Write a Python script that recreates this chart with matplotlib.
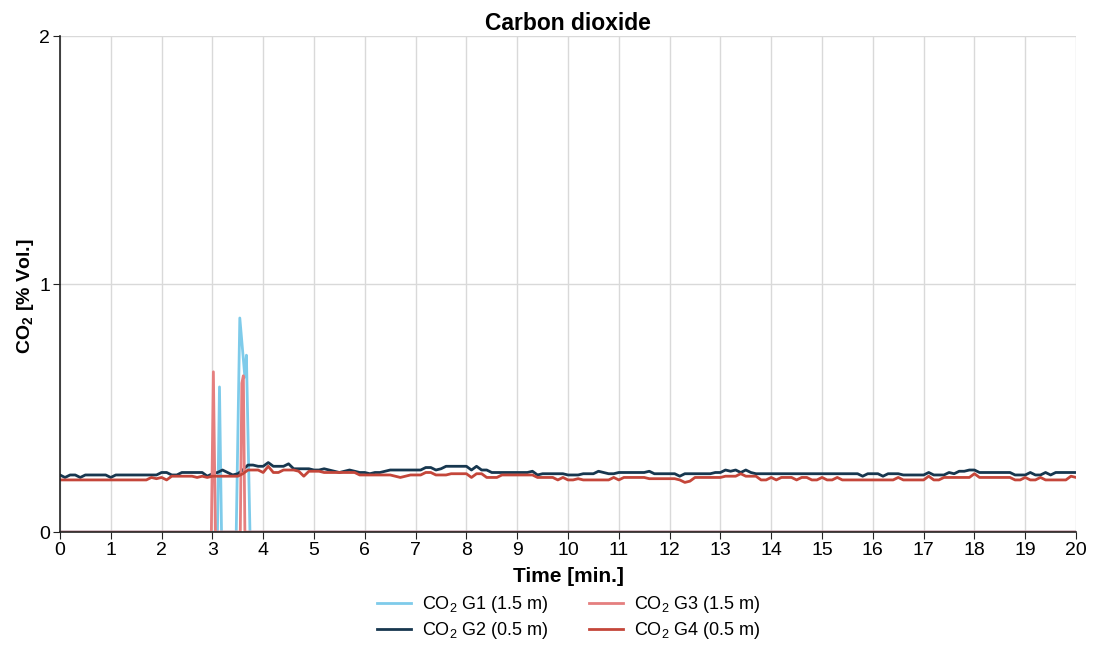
import numpy as np
import matplotlib
matplotlib.use("Agg")
import matplotlib.pyplot as plt

plt.rcParams['font.family'] = ['Liberation Sans', 'DejaVu Sans']
plt.rcParams['mathtext.fontset'] = 'custom'
plt.rcParams['mathtext.rm'] = 'Liberation Sans'
plt.rcParams['mathtext.bf'] = 'Liberation Sans:bold'

# sample grid for G2 / G4 (every 0.1 min)
time = np.round(np.arange(0, 20.01, 0.1), 1)

# CO2 G2 (0.5 m), % Vol. x100
g2 = [
    23, 22, 23, 23, 22, 23, 23, 23, 23, 23,
    22, 23, 23, 23, 23, 23, 23, 23, 23, 23,
    24, 24, 23, 23, 24, 24, 24, 24, 24, 22.5,
    23.5, 24, 25, 24, 23, 23.5, 25, 27, 27, 26.5,
    26.5, 28, 26.5, 26.5, 26.5, 27.5, 25.5, 25.5, 25.5, 25.5,
    25, 25, 25.5, 25, 24.5, 24, 24.5, 25, 24.5, 24,
    24, 23.5, 24, 24, 24.5, 25, 25, 25, 25, 25,
    25, 25, 26, 26, 25, 25.5, 26.5, 26.5, 26.5, 26.5,
    26.5, 25, 26.5, 25, 25, 24, 24, 24, 24, 24,
    24, 24, 24, 24.5, 23, 23.5, 23.5, 23.5, 23.5, 23.5,
    23, 23, 23, 23.5, 23.5, 23.5, 24.5, 24, 23.5, 23.5,
    24, 24, 24, 24, 24, 24, 24.5, 23.5, 23.5, 23.5,
    23.5, 23.5, 22.5, 23.5, 23.5, 23.5, 23.5, 23.5, 23.5, 24,
    24, 25, 24.5, 25, 24, 25, 24, 23.5, 23.5, 23.5,
    23.5, 23.5, 23.5, 23.5, 23.5, 23.5, 23.5, 23.5, 23.5, 23.5,
    23.5, 23.5, 23.5, 23.5, 23.5, 23.5, 23.5, 23.5, 22.5, 23.5,
    23.5, 23.5, 22.5, 23.5, 23.5, 23.5, 23, 23, 23, 23,
    23, 24, 23, 23, 23, 24, 23.5, 24.5, 24.5, 25,
    25, 24, 24, 24, 24, 24, 24, 24, 23, 23,
    23, 24, 23, 23, 24, 23, 24, 24, 24, 24,
    24,
]

# CO2 G4 (0.5 m), % Vol. x100
g4 = [
    21, 21, 21, 21, 21, 21, 21, 21, 21, 21,
    21, 21, 21, 21, 21, 21, 21, 21, 22, 21.5,
    22, 21, 22.5, 22.5, 22.5, 22.5, 22.5, 22, 22.5, 22,
    22.5, 22.5, 22.5, 22.5, 22.5, 22.5, 23.5, 25, 25, 25,
    24, 26.5, 24, 24, 25, 25, 25, 24.5, 22.5, 24.5,
    24.5, 24.5, 24, 24, 24, 24, 24, 24, 24, 23,
    23, 23, 23, 23, 23, 23, 22.5, 22, 22.5, 23,
    23, 23, 24, 24, 23, 23, 23, 23.5, 23.5, 23.5,
    23.5, 22, 23.5, 23.5, 22, 22, 22, 23, 23, 23,
    23, 23, 23, 23, 22, 22, 22, 22, 21, 22,
    21, 21, 21.5, 21, 21, 21, 21, 21, 21, 22,
    21, 22, 22, 22, 22, 22, 21.5, 21.5, 21.5, 21.5,
    21.5, 21.5, 21, 20, 20.5, 22, 22, 22, 22, 22,
    22, 22.5, 22.5, 22.5, 23.5, 22.5, 22.5, 22.5, 21, 21,
    22, 21, 22, 22, 22, 21, 22, 22, 21, 21,
    22, 21, 21, 22, 21, 21, 21, 21, 21, 21,
    21, 21, 21, 21, 21, 22, 21, 21, 21, 21,
    21, 22.5, 21, 21, 22, 22, 22, 22, 22, 22,
    23.5, 22, 22, 22, 22, 22, 22, 22, 21, 21,
    22, 21, 21, 22, 21, 21, 21, 21, 21, 22.5,
    22,
]

# G1 / G3 (1.5 m): zero except for short spikes
g1_time = [0, 3.10, 3.14, 3.18, 3.47, 3.54, 3.64, 3.67, 3.74, 20]
g1 = [0, 0, 0.585, 0, 0, 0.863, 0.625, 0.713, 0, 0]
g3_time = [0, 2.98, 3.02, 3.06, 3.55, 3.58, 3.61, 3.64, 20]
g3 = [0, 0, 0.646, 0, 0, 0.60, 0.63, 0, 0]

labels = [r'CO$_2$ G1 (1.5 m)', r'CO$_2$ G2 (0.5 m)',
          r'CO$_2$ G3 (1.5 m)', r'CO$_2$ G4 (0.5 m)']
colors = ['#7ECBEA', '#17374F', '#E57F7F', '#C4463A']

fig = plt.figure(figsize=(10.98, 6.48), dpi=100)
ax = fig.add_axes([0.0546, 0.179, 0.9254, 0.7654])

h1, = ax.plot(g1_time, g1, color=colors[0], lw=2, label=labels[0])
h2, = ax.plot(time, np.array(g2) / 100, color=colors[1], lw=2, label=labels[1])
h3, = ax.plot(g3_time, g3, color=colors[2], lw=2, label=labels[2])
h4, = ax.plot(time, np.array(g4) / 100, color=colors[3], lw=2, label=labels[3])

ax.set_xlim(0, 20)
ax.set_ylim(0, 2)
ax.set_xticks(range(0, 21))
ax.set_yticks([0, 1, 2])
ax.grid(True, color='#D9D9D9', lw=1)
ax.set_axisbelow(True)
for s in ['top', 'right']:
    ax.spines[s].set_visible(False)
for s in ['left', 'bottom']:
    ax.spines[s].set_color('#222222')
    ax.spines[s].set_linewidth(1.2)
ax.tick_params(labelsize=14, length=5, color='#222222', pad=2)

ax.set_title('Carbon dioxide', fontsize=16.5, fontweight='bold', pad=4)
ax.set_xlabel('Time [min.]', fontsize=15, fontweight='bold', labelpad=6)
ax.set_ylabel(r'CO$_\mathbf{2}$ [% Vol.]', fontsize=14, fontweight='bold')
ax.yaxis.set_label_coords(-0.024, 0.475)

fig.legend(handles=[h1, h2, h3, h4], loc='center', bbox_to_anchor=(0.518, 0.047),
           ncol=2, frameon=False, fontsize=13, handlelength=1.9,
           handletextpad=0.6, columnspacing=2.2, labelspacing=0.3)

fig.savefig('out.png', dpi=100)
